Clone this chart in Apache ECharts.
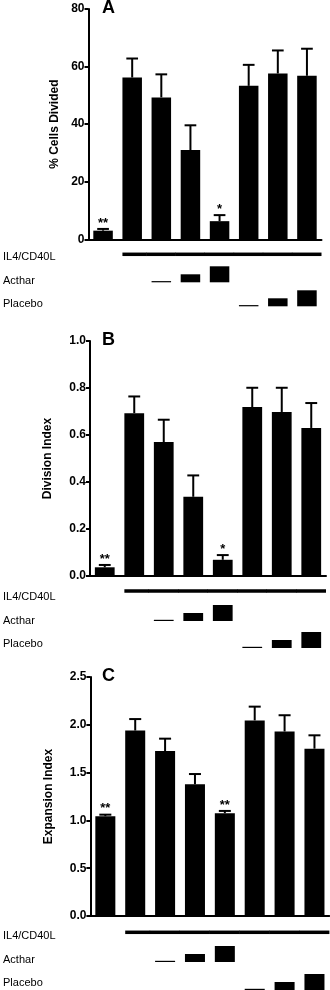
<!DOCTYPE html>
<html>
<head>
<meta charset="utf-8">
<script src="https://cdn.jsdelivr.net/npm/echarts@6/dist/echarts.min.js"></script>
<style>
html,body{margin:0;padding:0;background:#fff;}
#chart{width:330px;height:990px;}
</style>
</head>
<body>
<div id="chart"></div>
<script>
// ---- data ----
const categories = ['1','2','3','4','5','6','7','8'];

const aMean = [3.0, 56.2, 49.3, 31.0, 6.3, 53.3, 57.6, 56.8];
const aErr  = [0.6, 6.6, 8.0, 8.6, 2.1, 7.3, 8.0, 9.4];
const aStars = ['**','','','','*','','',''];

const bMean = [0.037, 0.693, 0.570, 0.337, 0.069, 0.719, 0.698, 0.630];
const bErr  = [0.010, 0.071, 0.095, 0.091, 0.020, 0.082, 0.103, 0.106];
const bStars = ['**','','','','*','','',''];

const cMean = [1.044, 1.940, 1.725, 1.378, 1.075, 2.046, 1.930, 1.750];
const cErr  = [0.016, 0.120, 0.130, 0.107, 0.024, 0.144, 0.170, 0.140];
const cStars = ['**','','','','**','','',''];

// treatment rows (0 = absent, 1..3 = dose level)
const il4 = [0,1,1,1,1,1,1,1];
const acthar = [0,0,1,2,3,0,0,0];
const placebo = [0,0,0,0,0,1,2,3];
const rowLabels = ['IL4/CD40L','Acthar','Placebo'];

const panelLetters = ['A','B','C'];
const yNames = ['% Cells Divided','Division Index','Expansion Index'];
const yMax = [80, 1.0, 2.5];
const yInterval = [20, 0.2, 0.5];
const yDecimals = [0, 1, 1];

// ---- layout / style ----
const FONT = '"Liberation Sans", Arial, Helvetica, sans-serif';
const grids = [
  {left: 88.5, top: 9,   width: 233, height: 230.3},
  {left: 90,   top: 341, width: 236, height: 235},
  {left: 90.4, top: 677, width: 239, height: 239}
];
const nameGaps = [28, 36, 36];
const rowOffsets = [
  {il4: 15, il4Label: 18, acthar: 43, actharLabel: 42, placebo: 67, placeboLabel: 65},
  {il4: 15, il4Label: 20.5, acthar: 45, actharLabel: 44.5, placebo: 72, placeboLabel: 68},
  {il4: 16.3, il4Label: 20, acthar: 46, actharLabel: 44, placebo: 74, placeboLabel: 67}
];
const doseHeights = [0, 1.2, 8, 16];
const BAR_FRAC = 0.67;

const means = [aMean, bMean, cMean];
const errs = [aErr, bErr, cErr];
const stars = [aStars, bStars, cStars];

const option = {
  animation: false,
  backgroundColor: '#fff',
  title: [],
  grid: [],
  xAxis: [],
  yAxis: [],
  series: []
};

for (let p = 0; p < 3; p++) {
  option.title.push({
    text: panelLetters[p], left: 102, top: grids[p].top - 10, padding: 0,
    textStyle: {fontFamily: FONT, fontWeight: 'bold', fontSize: 18, color: '#000'}
  });
  option.grid.push(grids[p]);
  option.xAxis.push({
    type: 'category', gridIndex: p, data: categories,
    axisLine: {lineStyle: {color: '#000', width: 2}},
    axisTick: {alignWithLabel: true, length: 4, lineStyle: {color: '#000', width: 1.5}},
    axisLabel: {show: false},
    splitLine: {show: false}
  });
  const dec = yDecimals[p];
  option.yAxis.push({
    type: 'value', gridIndex: p, min: 0, max: yMax[p], interval: yInterval[p],
    name: yNames[p], nameLocation: 'middle', nameGap: nameGaps[p],
    nameTextStyle: {fontFamily: FONT, fontWeight: 'bold', fontSize: 12, color: '#000'},
    axisLine: {show: true, lineStyle: {color: '#000', width: 2}},
    axisTick: {show: true, length: 4, lineStyle: {color: '#000', width: 2}},
    axisLabel: {fontFamily: FONT, fontWeight: 'bold', fontSize: 12, color: '#000', margin: 4,
      formatter: v => v.toFixed(dec)},
    splitLine: {show: false}
  });
  option.series.push({
    type: 'bar', xAxisIndex: p, yAxisIndex: p, data: means[p],
    barWidth: (BAR_FRAC*100) + '%', itemStyle: {color: '#000'}
  });
  const m = means[p], e = errs[p], s = stars[p];
  option.series.push({
    type: 'custom', xAxisIndex: p, yAxisIndex: p, z: 3,
    data: categories.map((c, i) => [i, m[i], e[i]]),
    encode: {x: 0, y: 1},
    renderItem: function (params, api) {
      const i = api.value(0);
      const top = api.coord([i, api.value(1) + api.value(2)]);
      const bot = api.coord([i, api.value(1)]);
      const band = api.size([1, 0])[0];
      const cap = band * BAR_FRAC * 0.6;
      const style = {stroke: '#000', lineWidth: 2};
      const children = [
        {type: 'line', shape: {x1: top[0], y1: bot[1], x2: top[0], y2: top[1]}, style},
        {type: 'line', shape: {x1: top[0]-cap/2, y1: top[1], x2: top[0]+cap/2, y2: top[1]}, style}
      ];
      if (s[i]) {
        children.push({type: 'text', x: top[0], y: top[1] - 6,
          style: {text: s[i], fill: '#000', font: 'bold 13px ' + FONT, align: 'center', verticalAlign: 'middle'}});
      }
      return {type: 'group', children};
    }
  });
  const off = rowOffsets[p];
  option.series.push({
    type: 'custom', xAxisIndex: p, yAxisIndex: p, clip: false, z: 3,
    data: categories.map((c, i) => [i, 0]),
    encode: {x: 0, y: 1},
    renderItem: function (params, api) {
      const i = api.value(0);
      const base = api.coord([i, 0]);
      const band = api.size([1, 0])[0];
      const w = band * BAR_FRAC;
      const children = [];
      if (il4[i]) {
        const x0 = il4[i-1] ? base[0] - band/2 - 0.5 : base[0] - w/2;
        const x1 = base[0] + band/2;
        children.push({type: 'rect', shape: {x: x0, y: base[1] + off.il4 - 1.75, width: x1 - x0, height: 3.5},
          style: {fill: '#000'}});
      }
      [[acthar, off.acthar], [placebo, off.placebo]].forEach(([arr, dy]) => {
        if (arr[i]) {
          const h = doseHeights[arr[i]];
          children.push({type: 'rect', shape: {x: base[0] - w/2, y: base[1] + dy - h, width: w, height: h},
            style: {fill: '#000'}});
        }
      });
      if (i === 0) {
        const ys = [off.il4Label, off.actharLabel, off.placeboLabel];
        rowLabels.forEach((t, k) => {
          children.push({type: 'text', x: 3, y: base[1] + ys[k],
            style: {text: t, fill: '#000', font: '11px ' + FONT, align: 'left', verticalAlign: 'middle'}});
        });
      }
      return {type: 'group', children};
    }
  });
}

const chart = echarts.init(document.getElementById('chart'), null, {renderer: 'canvas'});
chart.setOption(option);
</script>
</body>
</html>
